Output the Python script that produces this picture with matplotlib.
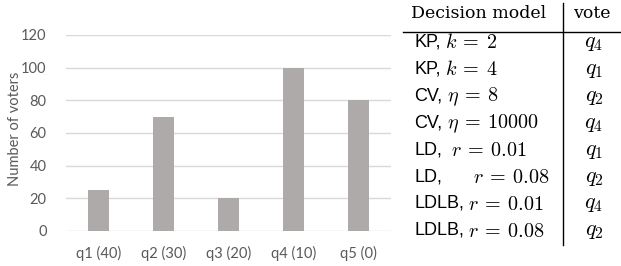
import matplotlib
matplotlib.use("Agg")
import matplotlib.pyplot as plt
from matplotlib.lines import Line2D

# Chart data
categories = ["q1 (40)", "q2 (30)", "q3 (20)", "q4 (10)", "q5 (0)"]
voters = [25, 70, 20, 100, 80]
y_ticks = [0, 20, 40, 60, 80, 100, 120]

# Table data (text part, math part)
model_names = ["KP,", "KP,", "CV,", "CV,", "LD,", "LD,", "LDLB,", "LDLB,"]
model_params = ["k\\:=\\:2", "k\\:=\\:4", "\\eta\\:=\\:8", "\\eta\\:=\\:10000",
                "r\\:=\\:0.01", "r\\:=\\:0.08", "r\\:=\\:0.01", "r\\:=\\:0.08"]
model_gaps = [1, 1, 1, 1, 2, 7, 1, 1]   # spaces between name and parameter
votes = ["q_4", "q_1", "q_2", "q_4", "q_1", "q_2", "q_4", "q_2"]

W, H = 621, 266
BAR_COLOR = "#aeaaaa"
GRID_COLOR = "#d9d9d9"
TEXT_COLOR = "#595959"

plt.rcParams["mathtext.fontset"] = "cm"

fig = plt.figure(figsize=(W / 100, H / 100), dpi=100)

def fx(px):
    return px / W

def fy(py):
    return 1 - py / H

# Bar chart
ax = fig.add_axes([fx(66), fy(231), fx(391) - fx(66), fy(35) - fy(231)])
x = range(len(categories))
ax.bar(x, voters, width=0.31, color=BAR_COLOR, zorder=2)
ax.set_xlim(-0.5, len(categories) - 0.5)
ax.set_ylim(0, 120)
ax.set_yticks(y_ticks)
ax.set_xticks(list(x))
ax.set_xticklabels(categories)
ax.grid(axis="y", color=GRID_COLOR, linewidth=1, zorder=0)
for s in ax.spines.values():
    s.set_visible(False)
ax.tick_params(length=0, labelsize=10.5, labelcolor=TEXT_COLOR, labelfontfamily="Lato")
ax.tick_params(axis="x", pad=11)
ax.tick_params(axis="y", pad=14)
fig.text(fx(15), fy(129), "Number of voters", rotation=90, ha="center", va="center",
         fontsize=10.5, color=TEXT_COLOR, family="Lato")

# Table
fig.text(fx(479), fy(14), "Decision model", ha="center", va="center",
         family="DejaVu Serif", fontsize=12.5)
fig.text(fx(592), fy(14), "vote", ha="center", va="center",
         family="DejaVu Serif", fontsize=12.5)
fig.add_artist(Line2D([fx(403), fx(621)], [fy(32), fy(32)], color="black", linewidth=1))
fig.add_artist(Line2D([fx(563), fx(563)], [fy(3), fy(245)], color="black", linewidth=1))

renderer = fig.canvas.get_renderer()
row_y0 = 42
row_step = 26.9
for i in range(len(model_names)):
    yy = row_y0 + i * row_step
    t = fig.text(fx(414), fy(yy), model_names[i], ha="left", va="center",
                 family="Liberation Sans", fontsize=13)
    x_end = t.get_window_extent(renderer).x1 + 4.5 * model_gaps[i]
    fig.text(x_end / W, fy(yy + 1), "$" + model_params[i] + "$", ha="left", va="center",
             fontsize=14.5)
    fig.text(fx(594), fy(yy + 1), "$" + votes[i] + "$", ha="center", va="center", fontsize=16)

fig.savefig("out.png", dpi=100)
